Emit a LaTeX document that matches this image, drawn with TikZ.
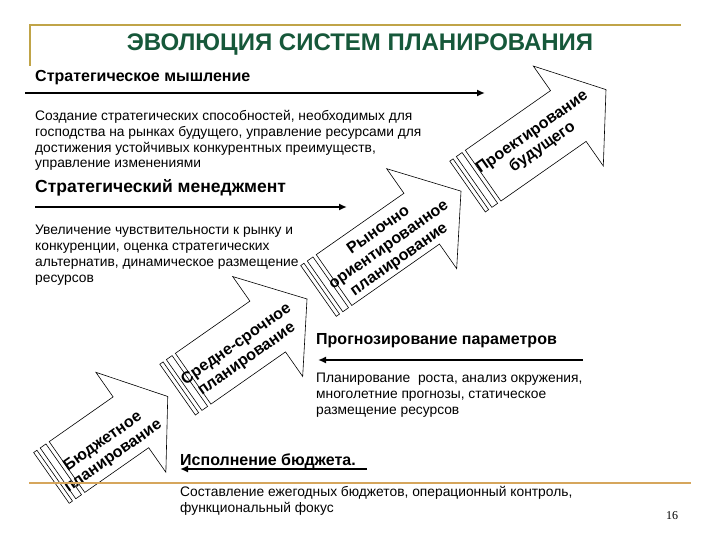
\documentclass[tikz,border=0pt]{standalone}
\usepackage{fontspec}
\setmainfont{Liberation Sans}
\newfontfamily\pagefont{Liberation Serif}
\usetikzlibrary{arrows.meta,positioning}
\definecolor{titlegreen}{RGB}{22,88,58}
\definecolor{slidegold}{RGB}{192,164,72}
\definecolor{slideorange}{RGB}{214,166,92}
\tikzset{
	heading/.style={anchor=west, inner sep=0, font=\fontsize{16}{18}\selectfont\bfseries},
	bodytext/.style={anchor=north west, inner sep=0, align=left, font=\fontsize{13.8}{15.8}\selectfont},
	timeline/.style={draw, line width=1.8pt, -{Latex[length=8pt,width=7pt]}},
	stage/.style={draw, fill=white, line width=0.6pt},
	stagetext/.style={inner sep=0, align=center, font=\fontsize{16}{18}\selectfont\bfseries},
	frameline/.style={line width=2.6pt, line cap=rect},
}
\begin{document}
\begin{tikzpicture}[x=1pt, y=-1pt]
	\useasboundingbox (0,0) rectangle (720,540);
	% Frame of the slide
	\draw[frameline, slidegold] (30,65) -- (30,25) -- (680,25);
	\node[text=titlegreen, font=\fontsize{24}{26}\selectfont\bfseries] (title) at (360,45) {ЭВОЛЮЦИЯ СИСТЕМ ПЛАНИРОВАНИЯ};
	% Striped arrows along the diagonal
	\begin{scope}[rotate=35, transform shape]
		\foreach \s/\h/\t in {-232/-135/-90, -78/32/80, 94/220/268, 276/399/445}{
			\draw[stage] (\s,390) rectangle ++(4,62);
			\draw[stage] (\s+8,390) rectangle ++(7,62);
			\draw[stage] (\s+19,390) -- (\h,390) -- (\h,360) -- (\t,421)
				-- (\h,482) -- (\h,452) -- (\s+19,452) -- cycle;
		}
		\node[stagetext] (budget) at (-169,430) {Бюджетное\\планирование};
		\node[stagetext] (midterm) at (-4,427) {Средне-срочное\\планирование};
		\node[stagetext] (market) at (178,424) {Рыночно\\ориентированное\\планирование};
		\node[stagetext] (future) at (360,423) {Проектирование\\будущего};
	\end{scope}
	% Strategic thinking
	\node[heading] (thinking) at (35,78) {Стратегическое мышление};
	\coordinate (thinking-a) at (25,93);
	\coordinate (thinking-b) at (485,93);
	\draw[timeline] (thinking-a) -- (thinking-b);
	\node[bodytext] (thinking-text) at (35,110) {Создание стратегических способностей, необходимых для\\
		господства на рынках будущего, управление ресурсами для\\
		достижения устойчивых конкурентных преимуществ,\\
		управление изменениями};
	% Strategic management
	\node[heading, font=\fontsize{17.5}{19}\selectfont\bfseries] (management) at (35,188) {Стратегический менеджмент};
	\coordinate (management-a) at (35,207);
	\coordinate (management-b) at (347,207);
	\draw[timeline] (management-a) -- (management-b);
	\node[bodytext] (management-text) at (35,225) {Увеличение чувствительности к рынку и\\
		конкуренции, оценка стратегических\\
		альтернатив, динамическое размещение\\
		ресурсов};
	% Forecasting
	\node[heading] (forecast) at (316,341) {Прогнозирование параметров};
	\coordinate (forecast-a) at (583,360);
	\coordinate (forecast-b) at (318,360);
	\draw[timeline] (forecast-a) -- (forecast-b);
	\node[bodytext] (forecast-text) at (316,373) {Планирование~ роста, анализ окружения,\\
		многолетние прогнозы, статическое\\
		размещение ресурсов};
	% Budget execution
	\node[heading] (execution) at (180,461) {Исполнение бюджета.};
	\coordinate (execution-a) at (367,469);
	\coordinate (execution-b) at (180,469);
	\draw[timeline] (execution-a) -- (execution-b);
	\draw[frameline, slideorange] (30,483) -- (690,483);
	\node[bodytext] (execution-text) at (180,486) {Составление ежегодных бюджетов, операционный контроль,\\
		функциональный фокус};
	\node[font=\fontsize{12}{14}\selectfont\pagefont, inner sep=0] (page) at (672,516) {16};
\end{tikzpicture}
\end{document}
